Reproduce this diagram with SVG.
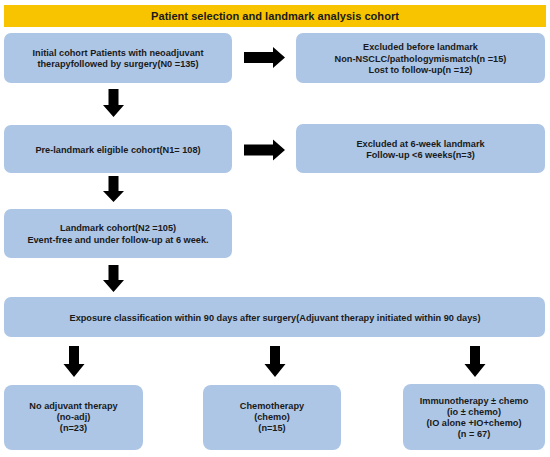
<svg xmlns="http://www.w3.org/2000/svg" width="550" height="457" viewBox="0 0 550 457">
<style>
.box{fill:#ADC6E6;}
.banner{fill:#F8C400;}
text{font-family:"Liberation Sans",Arial,sans-serif;font-weight:bold;font-size:9.2px;fill:#1a1a1a;text-anchor:middle;}
.title{font-size:11.1px;}
.arr{fill:#000;}
</style>
<rect width="550" height="457" fill="#fff"/>
<g id="banner">
<rect class="banner" x="4" y="5" width="542" height="22"/>
<text class="title" x="275" y="20">Patient selection and landmark analysis cohort</text>
</g>
<g id="initial">
<rect class="box" x="4" y="33" width="228" height="50" rx="7"/>
<text x="118" y="55.5">Initial cohort Patients with neoadjuvant</text>
<text x="118" y="66.5">therapyfollowed by surgery(N0 =135)</text>
</g>
<g id="excluded1">
<rect class="box" x="296" y="33" width="249" height="50" rx="7"/>
<text x="420.5" y="50">Excluded before landmark</text>
<text x="420.5" y="61.5">Non-NSCLC/pathologymismatch(n =15)</text>
<text x="420.5" y="73">Lost to follow-up(n =12)</text>
</g>
<g id="preland">
<rect class="box" x="4" y="125" width="228" height="48" rx="7"/>
<text x="118" y="152.5">Pre-landmark eligible cohort(N1= 108)</text>
</g>
<g id="excluded2">
<rect class="box" x="296" y="124" width="249" height="49" rx="7"/>
<text x="420.5" y="146.5">Excluded at 6-week landmark</text>
<text x="420.5" y="158">Follow-up &lt;6 weeks(n=3)</text>
</g>
<g id="landmark">
<rect class="box" x="4" y="209" width="228" height="49" rx="7"/>
<text x="118" y="231">Landmark cohort(N2 =105)</text>
<text x="118" y="242.5">Event-free and under follow-up at 6 week.</text>
</g>
<g id="exposure">
<rect class="box" x="4" y="297" width="541" height="40" rx="7"/>
<text x="275" y="320.5">Exposure classification within 90 days after surgery(Adjuvant therapy initiated within 90 days)</text>
</g>
<g id="noadj">
<rect class="box" x="4" y="385" width="139" height="65" rx="8"/>
<text x="73.5" y="409">No adjuvant therapy</text>
<text x="73.5" y="420">(no-adj)</text>
<text x="73.5" y="431">(n=23)</text>
</g>
<g id="chemo">
<rect class="box" x="203" y="385" width="138" height="65" rx="8"/>
<text x="272" y="409">Chemotherapy</text>
<text x="272" y="420">(chemo)</text>
<text x="272" y="431">(n=15)</text>
</g>
<g id="io">
<rect class="box" x="403" y="384" width="142" height="66" rx="8"/>
<text x="474" y="403.5">Immunotherapy ± chemo</text>
<text x="474" y="414.5">(io ± chemo)</text>
<text x="474" y="425.5">(IO alone +IO+chemo)</text>
<text x="474" y="436.5">(n = 67)</text>
</g>
<g id="connectors">
<polygon class="arr" points="244,52 273,52 273,47 285,57.5 273,68 273,63 244,63"/>
<polygon class="arr" points="244,144.5 273,144.5 273,139.5 285,150 273,160.5 273,155.5 244,155.5"/>
<polygon class="arr" points="108.5,89 118.5,89 118.5,105 124,105 113.5,117 103,105 108.5,105"/>
<polygon class="arr" points="108.5,176 118.5,176 118.5,191 124,191 113.5,202 103,191 108.5,191"/>
<polygon class="arr" points="108.5,265 118.5,265 118.5,280 124,280 113.5,292 103,280 108.5,280"/>
<polygon class="arr" points="69,346 79,346 79,364 84.5,364 74,377 63.5,364 69,364"/>
<polygon class="arr" points="270,346 280,346 280,364 285.5,364 275,377 264.5,364 270,364"/>
<polygon class="arr" points="470,346 480,346 480,364 485.5,364 475,377 464.5,364 470,364"/>
</g>
</svg>
